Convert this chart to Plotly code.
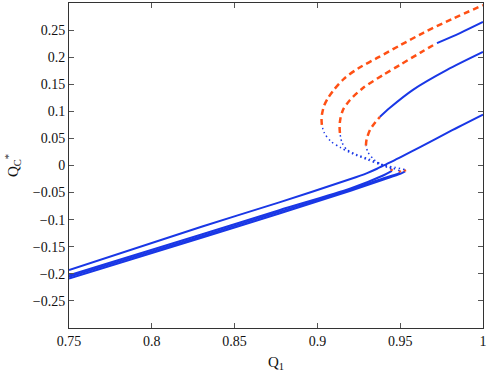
import plotly.graph_objects as go

# colours used in the original figure
BLUE = 'rgb(25,55,230)'
ORANGE = 'rgb(255,80,20)'

# curve 0: no hysteresis, one stable branch
c0_x = [0.75, 0.83, 0.877, 0.92, 0.93, 0.936, 0.942, 0.95, 0.962, 0.98, 1.0]
c0_y = [-0.193, -0.113, -0.068, -0.025, -0.014, -0.006, 0.003, 0.015, 0.034, 0.063, 0.094]

# curve 1: lower stable, unstable (dotted), unstable (dashed)
c1_low_x = [0.75, 0.83, 0.877, 0.92, 0.94, 0.95, 0.953]
c1_low_y = [-0.2085, -0.1335, -0.0885, -0.0465, -0.026, -0.0155, -0.011]
c1_tip_x = [0.953, 0.9527]
c1_tip_y = [-0.011, -0.0075]
c1_dot_x = [0.9527, 0.947, 0.938, 0.930, 0.921, 0.914, 0.908, 0.9042, 0.9027]
c1_dot_y = [-0.0075, -0.0037, 0.0018, 0.011, 0.022, 0.033, 0.045, 0.060, 0.075]
c1_dash_x = [0.9027, 0.9025, 0.9028, 0.9040, 0.9065, 0.9100, 0.9160, 0.9250, 0.9370,
             0.950, 0.964, 0.981, 1.0]
c1_dash_y = [0.075, 0.085, 0.095, 0.110, 0.125, 0.140, 0.160, 0.180, 0.200,
             0.222, 0.245, 0.270, 0.296]

# curve 2
c2_low_x = [0.75, 0.83, 0.877, 0.92, 0.94, 0.948, 0.950]
c2_low_y = [-0.2055, -0.1305, -0.0855, -0.0445, -0.0235, -0.016, -0.013]
c2_tip_x = [0.950, 0.9497]
c2_tip_y = [-0.013, -0.0095]
c2_dot_x = [0.9497, 0.9408, 0.9318, 0.9239, 0.9179, 0.9149, 0.9136]
c2_dot_y = [-0.0095, 0.0, 0.011, 0.020, 0.029, 0.042, 0.060]
c2_dash_x = [0.9136, 0.9134, 0.9138, 0.9155, 0.9197, 0.9275, 0.9396, 0.950, 0.962, 0.9722]
c2_dash_y = [0.060, 0.072, 0.085, 0.103, 0.121, 0.143, 0.167, 0.186, 0.208, 0.226]
c2_up_x = [0.9722, 0.9861, 1.0]
c2_up_y = [0.226, 0.2445, 0.265]

# curve 3
c3_low_x = [0.75, 0.83, 0.877, 0.92, 0.94, 0.945]
c3_low_y = [-0.2025, -0.1275, -0.0825, -0.0425, -0.018, -0.010]
c3_tip_x = [0.945, 0.9447]
c3_tip_y = [-0.010, -0.0065]
c3_dot_x = [0.9447, 0.9396, 0.9342, 0.9306, 0.9293]
c3_dot_y = [-0.0065, 0.0, 0.011, 0.024, 0.037]
c3_dash_x = [0.9293, 0.9297, 0.9318, 0.9348, 0.9378]
c3_dash_y = [0.037, 0.048, 0.066, 0.079, 0.090]
c3_up_x = [0.9378, 0.9438, 0.9577, 0.9783, 1.0]
c3_up_y = [0.090, 0.1066, 0.1397, 0.1765, 0.2096]

y_ticks = [-0.25, -0.2, -0.15, -0.1, -0.05, 0, 0.05, 0.1, 0.15, 0.2, 0.25]
y_labels = ['\u22120.25', '\u22120.2', '\u22120.15', '\u22120.1', '\u22120.05', '0',
            '0.05', '0.1', '0.15', '0.2', '0.25']
x_ticks = [0.75, 0.8, 0.85, 0.9, 0.95, 1.0]
x_labels = ['0.75', '0.8', '0.85', '0.9', '0.95', '1']

solid = dict(color=BLUE, width=2)
dotted = dict(color=BLUE, width=1.5, dash='1.5px,3px')
dashed = dict(color=ORANGE, width=2.5, dash='6px,4px')
tip = dict(color=ORANGE, width=2.5)

segments = [
    (c0_x, c0_y, solid),
    (c1_low_x, c1_low_y, solid), (c1_tip_x, c1_tip_y, tip),
    (c1_dot_x, c1_dot_y, dotted), (c1_dash_x, c1_dash_y, dashed),
    (c2_low_x, c2_low_y, solid), (c2_tip_x, c2_tip_y, tip),
    (c2_dot_x, c2_dot_y, dotted), (c2_dash_x, c2_dash_y, dashed),
    (c2_up_x, c2_up_y, solid),
    (c3_low_x, c3_low_y, solid), (c3_tip_x, c3_tip_y, tip),
    (c3_dot_x, c3_dot_y, dotted), (c3_dash_x, c3_dash_y, dashed),
    (c3_up_x, c3_up_y, solid),
]

data = [go.Scatter(x=sx, y=sy, mode='lines', line=ln, line_shape='spline',
                   line_smoothing=0.8, showlegend=False, hoverinfo='skip')
        for sx, sy, ln in segments]

axis_style = dict(showgrid=False, zeroline=False, showline=True, mirror='ticks',
                  linecolor='#333', linewidth=1, ticks='inside', ticklen=5,
                  tickcolor='#555', tickwidth=1)

layout = go.Layout(
    width=491, height=372,
    margin=dict(l=69, r=8, t=3, b=44),
    plot_bgcolor='white', paper_bgcolor='white',
    font=dict(family='Liberation Serif', size=14, color='#111'),
    xaxis=dict(range=[0.75, 1.0], tickvals=x_ticks, ticktext=x_labels,
               title=dict(text='Q<sub>1</sub>', standoff=8, font=dict(size=15)),
               **axis_style),
    yaxis=dict(range=[-0.3, 0.3], tickvals=y_ticks, ticktext=y_labels,
               title=dict(text='Q<sub>C</sub><sup>*</sup>', standoff=10, font=dict(size=15)),
               **axis_style),
)

fig = go.Figure(data=data, layout=layout)
# drop the browser's default 8px body margin so the figure sits at the page corner
fig.write_html('out.html', config={'displayModeBar': False},
               post_script="document.body.style.margin='0';")
